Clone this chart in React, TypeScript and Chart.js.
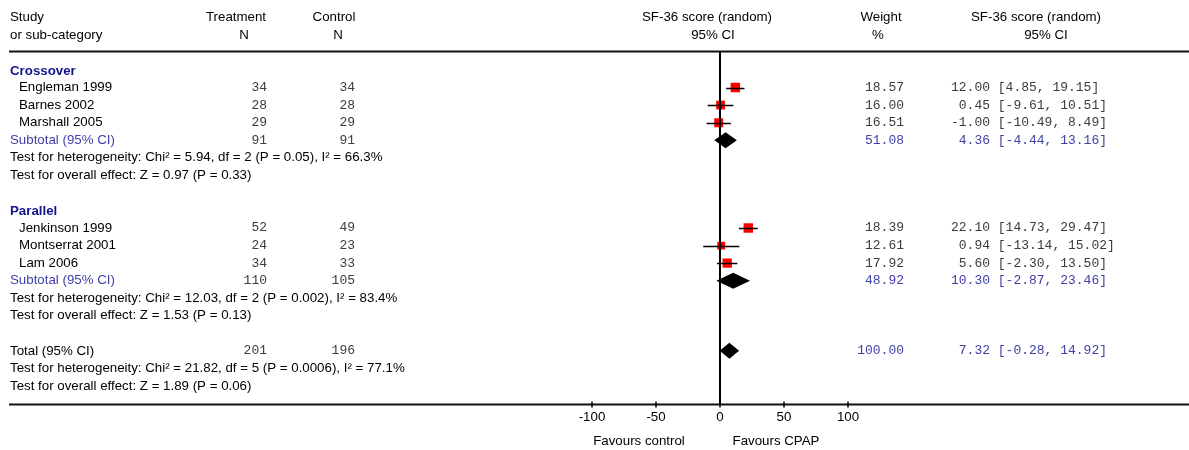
import React, { useEffect, useRef } from "react";
import { Chart, registerables } from "chart.js";

Chart.register(...registerables);

// ---------- data ----------
const groupNames = ["Crossover", "Parallel"];
const studyNames = ["Engleman 1999", "Barnes 2002", "Marshall 2005", "Jenkinson 1999", "Montserrat 2001", "Lam 2006"];
const studyGroup = [0, 0, 0, 1, 1, 1];
const treatmentN = [34, 28, 29, 52, 24, 34];
const controlN = [34, 28, 29, 49, 23, 33];
const studyWeights = [18.57, 16.0, 16.51, 18.39, 12.61, 17.92];
const studyEstimates = [12.0, 0.45, -1.0, 22.1, 0.94, 5.6];
const studyLower = [4.85, -9.61, -10.49, 14.73, -13.14, -2.3];
const studyUpper = [19.15, 10.51, 8.49, 29.47, 15.02, 13.5];

const pooledLabels = ["Subtotal (95% CI)", "Subtotal (95% CI)", "Total (95% CI)"];
const pooledTreatmentN = [91, 110, 201];
const pooledControlN = [91, 105, 196];
const pooledWeights = [51.08, 48.92, 100.0];
const pooledEstimates = [4.36, 10.3, 7.32];
const pooledLower = [-4.44, -2.87, -0.28];
const pooledUpper = [13.16, 23.46, 14.92];
const heterogeneityTexts = [
  "Test for heterogeneity: Chi\u00b2 = 5.94, df = 2 (P = 0.05), I\u00b2 = 66.3%",
  "Test for heterogeneity: Chi\u00b2 = 12.03, df = 2 (P = 0.002), I\u00b2 = 83.4%",
  "Test for heterogeneity: Chi\u00b2 = 21.82, df = 5 (P = 0.0006), I\u00b2 = 77.1%",
];
const overallTexts = [
  "Test for overall effect: Z = 0.97 (P = 0.33)",
  "Test for overall effect: Z = 1.53 (P = 0.13)",
  "Test for overall effect: Z = 1.89 (P = 0.06)",
];
const xTicks = [-100, -50, 0, 50, 100];
const favoursLabels = ["Favours control", "Favours CPAP"];

// ---------- row layout ----------
type Row = { kind: string; idx: number; row: number };
function buildRows(): Row[] {
  const rows: Row[] = [];
  let r = 0;
  groupNames.forEach((_, g) => {
    rows.push({ kind: "group", idx: g, row: r++ });
    studyNames.forEach((_, i) => {
      if (studyGroup[i] === g) rows.push({ kind: "study", idx: i, row: r++ });
    });
    rows.push({ kind: "pooled", idx: g, row: r++ });
    rows.push({ kind: "het", idx: g, row: r++ });
    rows.push({ kind: "overall", idx: g, row: r++ });
    r++;
  });
  rows.push({ kind: "pooled", idx: 2, row: r++ });
  rows.push({ kind: "het", idx: 2, row: r++ });
  rows.push({ kind: "overall", idx: 2, row: r++ });
  return rows;
}
const rows = buildRows();
const studyRow = (i: number) => rows.find((r) => r.kind === "study" && r.idx === i)!.row;

const SANS = "'Liberation Sans', Arial, sans-serif";
const MONO = "'Liberation Mono', 'Courier New', monospace";
const SANS_SIZE = 13.3;
const NAVY = "#14148c";
const BLUE = "#4040a8";
const GREY = "#3c3c3c";

const forestPlugin = {
  id: "forest",
  afterDatasetsDraw(chart: any) {
    const ctx = chart.ctx;
    const xs = chart.scales.x;
    const ys = chart.scales.y;
    ctx.save();
    // whiskers
    ctx.strokeStyle = "#000";
    ctx.lineWidth = 1.5;
    studyNames.forEach((_, i) => {
      const y = Math.round(ys.getPixelForValue(studyRow(i))) + 0.5;
      ctx.beginPath();
      ctx.moveTo(xs.getPixelForValue(studyLower[i]), y);
      ctx.lineTo(xs.getPixelForValue(studyUpper[i]), y);
      ctx.stroke();
    });
    // diamonds
    ctx.fillStyle = "#000";
    rows.filter((r) => r.kind === "pooled").forEach((r) => {
      const y = ys.getPixelForValue(r.row);
      const h = 8;
      ctx.beginPath();
      ctx.moveTo(xs.getPixelForValue(pooledLower[r.idx]), y);
      ctx.lineTo(xs.getPixelForValue(pooledEstimates[r.idx]), y - h);
      ctx.lineTo(xs.getPixelForValue(pooledUpper[r.idx]), y);
      ctx.lineTo(xs.getPixelForValue(pooledEstimates[r.idx]), y + h);
      ctx.closePath();
      ctx.fill();
    });
    ctx.restore();
  },
  afterDraw(chart: any) {
    const ctx = chart.ctx;
    const xs = chart.scales.x;
    const ys = chart.scales.y;
    const area = chart.chartArea;
    const W = chart.width;
    ctx.save();
    // horizontal rules
    ctx.strokeStyle = "#111";
    ctx.lineWidth = 2;
    ctx.beginPath();
    ctx.moveTo(9, area.top);
    ctx.lineTo(W, area.top);
    ctx.moveTo(9, area.bottom);
    ctx.lineTo(W, area.bottom);
    ctx.stroke();
    // zero line
    const x0 = xs.getPixelForValue(0);
    ctx.strokeStyle = "#000";
    ctx.beginPath();
    ctx.moveTo(x0, area.top);
    ctx.lineTo(x0, area.bottom);
    ctx.stroke();
    // ticks
    ctx.lineWidth = 1.5;
    ctx.font = `${SANS_SIZE}px ${SANS}`;
    ctx.fillStyle = "#000";
    ctx.textAlign = "center";
    ctx.textBaseline = "middle";
    xTicks.forEach((t) => {
      const x = xs.getPixelForValue(t);
      ctx.beginPath();
      ctx.moveTo(x, area.bottom - 3);
      ctx.lineTo(x, area.bottom + 3);
      ctx.stroke();
      ctx.fillText(String(t), x, area.bottom + 13);
    });
    ctx.fillText(favoursLabels[0], 639, area.bottom + 37);
    ctx.fillText(favoursLabels[1], 776, area.bottom + 37);

    // header
    const h1 = ys.getPixelForValue(-3);
    const h2 = ys.getPixelForValue(-2);
    ctx.textAlign = "left";
    ctx.fillText("Study", 10, h1);
    ctx.fillText("or sub-category", 10, h2);
    ctx.textAlign = "center";
    ctx.fillText("Treatment", 236, h1);
    ctx.fillText("N", 244, h2);
    ctx.fillText("Control", 334, h1);
    ctx.fillText("N", 338, h2);
    ctx.fillText("SF-36 score (random)", 707, h1);
    ctx.fillText("95% CI", 713, h2);
    ctx.fillText("Weight", 881, h1);
    ctx.fillText("%", 878, h2);
    ctx.fillText("SF-36 score (random)", 1036, h1);
    ctx.fillText("95% CI", 1046, h2);

    const mono = (s: string, x: number, y: number, align: string, color: string) => {
      ctx.font = `13px ${MONO}`;
      ctx.fillStyle = color;
      ctx.textAlign = align;
      ctx.fillText(s, x, y);
    };
    const sans = (s: string, x: number, y: number, color: string, bold = false) => {
      ctx.font = `${bold ? "bold " : ""}${SANS_SIZE}px ${SANS}`;
      ctx.fillStyle = color;
      ctx.textAlign = "left";
      ctx.fillText(s, x, y);
    };

    rows.forEach((r) => {
      const y = ys.getPixelForValue(r.row);
      if (r.kind === "group") {
        sans(groupNames[r.idx], 10, y + 1, NAVY, true);
      } else if (r.kind === "study") {
        const i = r.idx;
        sans(studyNames[i], 19, y, "#000");
        mono(String(treatmentN[i]), 267, y, "right", GREY);
        mono(String(controlN[i]), 355, y, "right", GREY);
        mono(studyWeights[i].toFixed(2), 904, y, "right", GREY);
        mono(studyEstimates[i].toFixed(2), 990, y, "right", GREY);
        mono(` [${studyLower[i].toFixed(2)}, ${studyUpper[i].toFixed(2)}]`, 990, y, "left", GREY);
      } else if (r.kind === "pooled") {
        const i = r.idx;
        const isTotal = i === 2;
        sans(pooledLabels[i], 10, y, isTotal ? "#000" : BLUE);
        mono(String(pooledTreatmentN[i]), 267, y, "right", GREY);
        mono(String(pooledControlN[i]), 355, y, "right", GREY);
        mono(pooledWeights[i].toFixed(2), 904, y, "right", BLUE);
        mono(pooledEstimates[i].toFixed(2), 990, y, "right", BLUE);
        mono(` [${pooledLower[i].toFixed(2)}, ${pooledUpper[i].toFixed(2)}]`, 990, y, "left", BLUE);
      } else if (r.kind === "het") {
        sans(heterogeneityTexts[r.idx], 10, y, "#000");
      } else if (r.kind === "overall") {
        sans(overallTexts[r.idx], 10, y, "#000");
      }
    });
    ctx.restore();
  },
};

export default function App() {
  const ref = useRef<HTMLCanvasElement | null>(null);
  useEffect(() => {
    if (!ref.current) return;
    const chart = new Chart(ref.current, {
      type: "scatter",
      data: {
        datasets: [
          {
            label: "Studies",
            data: studyNames.map((_, i) => ({ x: studyEstimates[i], y: studyRow(i) })),
            pointStyle: "rect",
            pointRadius: studyWeights.map((w) => (2.2 * Math.sqrt(w)) / Math.SQRT2),
            backgroundColor: "#ff0000",
            borderWidth: 0,
            pointHoverRadius: 0,
          },
        ],
      },
      options: {
        animation: false,
        responsive: true,
        maintainAspectRatio: false,
        events: [],
        layout: { padding: { left: 592, right: 341, top: 51.6, bottom: 45.6 } },
        scales: {
          x: { type: "linear", min: -100, max: 100, display: false },
          y: { type: "linear", min: -1.05, max: 19.05, reverse: true, display: false },
        },
        plugins: { legend: { display: false }, tooltip: { enabled: false } },
      },
      plugins: [forestPlugin as any],
    });
    return () => chart.destroy();
  }, []);
  return (
    <div style={{ position: "absolute", left: 0, top: 0, width: 1189, height: 450, background: "#fff" }}>
      <canvas ref={ref} />
    </div>
  );
}
